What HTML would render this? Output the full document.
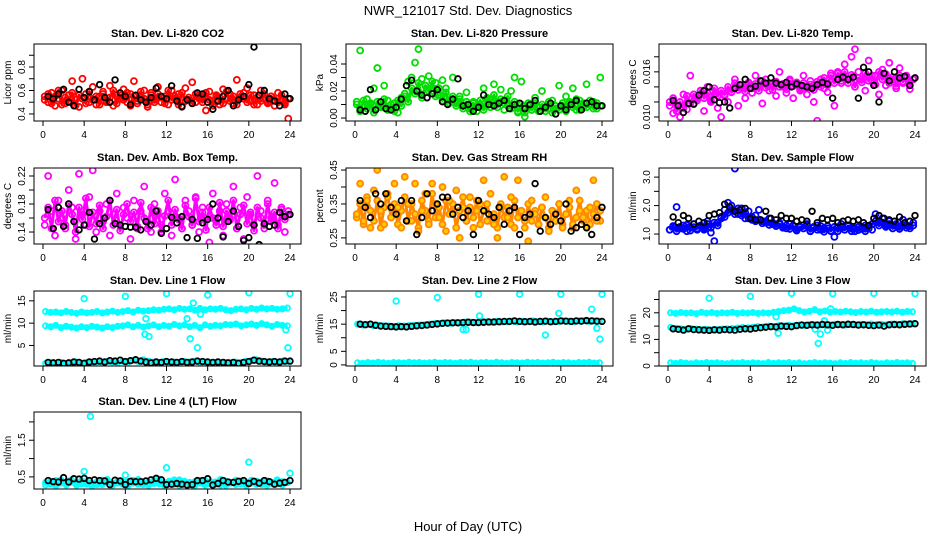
<!DOCTYPE html>
<html><head><meta charset="utf-8"><title>NWR_121017 Std. Dev. Diagnostics</title>
<style>html,body{margin:0;padding:0;background:#fff}svg{display:block;font-family:"Liberation Sans",sans-serif}</style>
</head><body>
<svg id="chart" width="936" height="540" viewBox="0 0 936 540" xmlns="http://www.w3.org/2000/svg">
<rect width="936" height="540" fill="#fff"/>
<text x="468" y="15" text-anchor="middle" font-size="13">NWR_121017  Std. Dev. Diagnostics</text>
<text x="468" y="531" text-anchor="middle" font-size="13">Hour of Day (UTC)</text>
</svg>
<script>
const co2Col=[0.55,0.50,0.58,0.47,0.53,0.60,0.49,0.56,0.68,0.52,0.46,0.70,0.57,0.50,0.63,0.48,0.55,0.59,0.51,0.64,0.47,0.56,0.53,0.61,0.50,0.57,0.68,0.49,0.54,0.60,0.46,0.58,0.52,0.63,0.50,0.55,0.48,0.60,0.53,0.57,0.47,0.62,0.52,0.67,0.50,0.56,0.54,0.43,0.59,0.51,0.55,0.48,0.61,0.53,0.57,0.49,0.69,0.54,0.58,0.62,0.51,0.56,0.48,0.60,0.53,0.50,0.55,0.47,0.58,0.52,0.49,0.36];
const co2Core=[0.52,0.57,0.49,0.55,0.60,0.48,0.54,0.51,0.58,0.47,0.56,0.53,0.49,0.59,0.52,0.55,0.48,0.57,0.50,0.54,0.60,0.49,0.56,0.52,0.58,0.47,0.55,0.51,0.59,0.53,0.48,0.56,0.50,0.57,0.54,0.49,0.60,0.52,0.55,0.48,0.58,0.51,0.54,0.49,0.57,0.53,0.50,0.58,0.52,0.47,0.56,0.54,0.49,0.59,0.51,0.55,0.48,0.57,0.53,0.50,0.56,0.48,0.54,0.51,0.57,0.49,0.55,0.52,0.50,0.56,0.48,0.53];
const co2Blk=[0.55,0.53,0.57,0.61,0.50,0.47,0.61,0.54,0.59,0.52,0.65,0.54,0.50,0.69,0.58,0.55,0.48,0.56,0.52,0.50,0.54,0.62,0.55,0.53,0.64,0.51,0.46,0.52,0.49,0.58,0.57,0.50,0.44,0.51,0.55,0.60,0.47,0.52,0.55,0.65,0.97,0.56,0.60,0.53,0.51,0.47,0.57,0.53];
const presCol=[0.012,0.050,0.008,0.014,0.010,0.022,0.037,0.009,0.024,0.013,0.006,0.011,0.004,0.015,0.018,0.027,0.030,0.041,0.051,0.029,0.024,0.031,0.020,0.026,0.017,0.028,0.022,0.013,0.030,0.011,0.016,0.009,0.019,0.007,0.012,0.005,0.010,0.022,0.014,0.008,0.025,0.012,0.021,0.006,0.009,0.020,0.030,0.004,0.027,0.001,0.011,0.006,0.015,0.008,0.020,0.005,0.010,0.013,0.007,0.024,0.009,0.016,0.011,0.022,0.006,0.013,0.008,0.025,0.010,0.012,0.007,0.030];
const presCore=[0.010,0.005,0.013,0.007,0.011,0.004,0.012,0.008,0.014,0.006,0.010,0.005,0.013,0.009,0.016,0.012,0.022,0.018,0.026,0.015,0.024,0.020,0.027,0.016,0.022,0.013,0.019,0.011,0.016,0.009,0.014,0.007,0.012,0.005,0.011,0.008,0.013,0.006,0.015,0.010,0.017,0.008,0.014,0.011,0.016,0.007,0.012,0.005,0.010,0.004,0.009,0.006,0.011,0.005,0.010,0.007,0.012,0.004,0.009,0.006,0.011,0.005,0.012,0.008,0.014,0.006,0.011,0.008,0.013,0.007,0.011,0.009];
const presBlk=[0.006,0.005,0.021,0.006,0.012,0.007,0.006,0.008,0.014,0.024,0.028,0.020,0.017,0.015,0.018,0.021,0.012,0.010,0.014,0.029,0.009,0.010,0.005,0.008,0.017,0.010,0.009,0.011,0.013,0.007,0.010,0.011,0.007,0.010,0.013,0.005,0.008,0.011,0.003,0.009,0.006,0.010,0.013,0.006,0.011,0.012,0.009,0.009];
const tempCol=[0.0120,0.0105,0.0115,0.0100,0.0130,0.0110,0.0155,0.0118,0.0125,0.0135,0.0108,0.0140,0.0122,0.0130,0.0112,0.0100,0.0128,0.0120,0.0133,0.0150,0.0115,0.0138,0.0125,0.0145,0.0132,0.0155,0.0140,0.0118,0.0150,0.0135,0.0145,0.0128,0.0160,0.0140,0.0132,0.0150,0.0125,0.0143,0.0137,0.0155,0.0130,0.0148,0.0120,0.0095,0.0150,0.0138,0.0133,0.0158,0.0115,0.0160,0.0145,0.0170,0.0150,0.0180,0.0190,0.0160,0.0150,0.0135,0.0175,0.0148,0.0155,0.0130,0.0163,0.0142,0.0172,0.0150,0.0138,0.0165,0.0145,0.0155,0.0137,0.0150];
const tempCore=[0.0115,0.0125,0.0108,0.0120,0.0112,0.0128,0.0118,0.0130,0.0122,0.0135,0.0125,0.0132,0.0120,0.0138,0.0128,0.0135,0.0130,0.0140,0.0133,0.0145,0.0136,0.0142,0.0134,0.0146,0.0138,0.0144,0.0135,0.0148,0.0139,0.0145,0.0136,0.0147,0.0140,0.0144,0.0137,0.0148,0.0141,0.0146,0.0135,0.0145,0.0138,0.0143,0.0136,0.0147,0.0140,0.0152,0.0142,0.0155,0.0145,0.0158,0.0148,0.0160,0.0145,0.0156,0.0140,0.0152,0.0146,0.0158,0.0148,0.0155,0.0143,0.0160,0.0150,0.0157,0.0145,0.0153,0.0141,0.0155,0.0147,0.0152,0.0142,0.0150];
const tempBlk=[0.0122,0.0115,0.0106,0.0118,0.0117,0.0129,0.0135,0.0140,0.0123,0.0119,0.0120,0.0112,0.0138,0.0143,0.0150,0.0138,0.0141,0.0148,0.0145,0.0152,0.0145,0.0143,0.0146,0.0140,0.0144,0.0142,0.0140,0.0138,0.0143,0.0146,0.0144,0.0125,0.0150,0.0153,0.0150,0.0153,0.0125,0.0166,0.0160,0.0142,0.0120,0.0158,0.0148,0.0160,0.0152,0.0154,0.0142,0.0152];
const ambCol=[0.150,0.220,0.170,0.135,0.185,0.160,0.145,0.200,0.175,0.130,0.223,0.165,0.150,0.190,0.228,0.140,0.170,0.155,0.180,0.135,0.165,0.195,0.150,0.175,0.160,0.130,0.185,0.145,0.170,0.205,0.155,0.140,0.180,0.165,0.150,0.195,0.170,0.135,0.215,0.160,0.145,0.185,0.170,0.150,0.190,0.140,0.175,0.160,0.125,0.195,0.155,0.170,0.135,0.180,0.160,0.205,0.145,0.175,0.130,0.190,0.165,0.150,0.220,0.170,0.145,0.185,0.160,0.210,0.150,0.175,0.140,0.170];
const ambCore=[0.160,0.175,0.145,0.185,0.155,0.170,0.150,0.180,0.165,0.140,0.175,0.158,0.188,0.148,0.168,0.152,0.178,0.145,0.162,0.185,0.150,0.172,0.142,0.165,0.180,0.155,0.168,0.148,0.182,0.160,0.145,0.175,0.152,0.170,0.140,0.163,0.185,0.150,0.172,0.158,0.145,0.178,0.162,0.150,0.188,0.155,0.168,0.143,0.175,0.160,0.150,0.182,0.148,0.170,0.157,0.185,0.145,0.165,0.178,0.152,0.168,0.142,0.175,0.160,0.150,0.180,0.155,0.168,0.145,0.172,0.158,0.165];
const ambBlk=[0.172,0.145,0.175,0.148,0.180,0.155,0.143,0.150,0.168,0.130,0.152,0.160,0.185,0.152,0.150,0.148,0.147,0.147,0.143,0.155,0.150,0.170,0.138,0.145,0.161,0.153,0.162,0.132,0.158,0.131,0.153,0.158,0.180,0.160,0.133,0.155,0.170,0.148,0.128,0.132,0.150,0.122,0.152,0.148,0.150,0.168,0.162,0.165];
const rhCol=[0.32,0.41,0.30,0.36,0.28,0.39,0.45,0.33,0.29,0.37,0.31,0.41,0.34,0.28,0.43,0.35,0.30,0.41,0.27,0.33,0.38,0.29,0.41,0.35,0.31,0.40,0.27,0.36,0.32,0.39,0.25,0.34,0.30,0.37,0.28,0.33,0.35,0.42,0.30,0.38,0.29,0.25,0.34,0.43,0.31,0.37,0.28,0.42,0.33,0.30,0.24,0.36,0.32,0.29,0.34,0.37,0.27,0.33,0.30,0.35,0.28,0.32,0.36,0.29,0.39,0.33,0.31,0.28,0.34,0.42,0.30,0.33];
const rhCore=[0.31,0.35,0.29,0.37,0.33,0.30,0.36,0.28,0.34,0.38,0.31,0.35,0.29,0.33,0.37,0.30,0.35,0.32,0.28,0.36,0.33,0.30,0.38,0.31,0.34,0.29,0.36,0.32,0.35,0.28,0.33,0.37,0.30,0.34,0.31,0.36,0.29,0.33,0.35,0.30,0.32,0.28,0.35,0.31,0.34,0.29,0.36,0.31,0.33,0.28,0.35,0.30,0.33,0.29,0.34,0.31,0.28,0.33,0.30,0.35,0.29,0.32,0.34,0.28,0.31,0.36,0.30,0.33,0.29,0.32,0.35,0.30];
const rhBlk=[0.36,0.34,0.31,0.38,0.35,0.38,0.34,0.32,0.36,0.30,0.36,0.26,0.31,0.38,0.33,0.35,0.37,0.37,0.32,0.34,0.31,0.33,0.26,0.36,0.33,0.32,0.31,0.34,0.29,0.33,0.34,0.26,0.31,0.32,0.41,0.27,0.31,0.29,0.32,0.30,0.35,0.27,0.28,0.29,0.28,0.26,0.31,0.34];
const flowCol=[1.15,1.25,1.95,1.20,1.30,1.10,1.25,1.35,1.15,1.28,1.20,1.45,1.05,0.75,1.40,1.60,1.85,2.10,2.00,3.30,1.70,1.90,1.55,1.80,1.50,1.65,1.85,1.45,1.40,1.55,1.35,1.30,1.40,1.25,1.20,1.35,1.30,1.15,1.25,1.20,1.35,1.10,1.25,1.30,1.15,1.20,1.28,1.10,0.90,1.25,1.35,1.15,1.30,1.20,1.10,1.25,1.18,1.30,1.20,1.15,1.70,1.40,1.55,1.30,1.45,1.20,1.35,1.25,1.50,1.30,1.20,1.40];
const flowCore=[1.15,1.28,1.10,1.25,1.18,1.32,1.12,1.24,1.20,1.30,1.15,1.35,1.22,1.40,1.30,1.55,1.60,1.75,1.85,1.70,1.90,1.65,1.75,1.55,1.60,1.45,1.50,1.38,1.45,1.32,1.40,1.28,1.35,1.22,1.30,1.18,1.28,1.12,1.25,1.20,1.30,1.10,1.22,1.15,1.28,1.08,1.20,1.12,1.25,1.10,1.22,1.15,1.28,1.10,1.20,1.14,1.25,1.10,1.20,1.35,1.45,1.30,1.40,1.25,1.35,1.20,1.30,1.18,1.32,1.22,1.28,1.30];
const flowBlk=[1.60,1.40,1.65,1.55,1.35,1.45,1.40,1.65,1.70,1.75,2.05,1.95,1.80,1.85,1.90,1.55,1.50,1.50,1.80,1.55,1.50,1.65,1.55,1.55,1.45,1.50,1.45,1.80,1.40,1.55,1.50,1.55,1.40,1.45,1.50,1.45,1.50,1.40,1.30,1.55,1.65,1.55,1.50,1.45,1.60,1.40,1.45,1.65];
const l1BandA=[12.6,12.4,12.5,12.3,12.6,12.4,12.2,12.5,12.3,12.4,12.6,12.3,12.5,12.7,12.4,12.6,12.8,12.5,12.9,12.7,12.8,13.0,12.9,13.1,13.2,13.0,13.3,13.1,13.2,12.9,13.3,13.0,13.2,13.1,13.3,13.0,12.8,13.1,13.2,13.0,13.3,13.1,13.4,13.2,13.3,13.1,13.2,13.4];
const l1BandB=[9.4,9.2,9.5,9.0,9.3,9.1,8.9,9.2,9.0,9.3,9.1,8.9,9.2,9.0,9.3,9.4,9.6,9.2,9.5,9.1,9.4,9.6,9.2,9.5,9.3,9.7,9.4,9.6,9.2,9.5,9.0,9.6,9.3,9.5,9.4,9.7,9.6,9.8,9.4,9.6,9.8,9.5,9.9,9.6,9.3,9.7,9.5,9.4];
const l1BandC=[1.0,1.1,0.9,1.2,1.0,1.1,1.3,1.0,1.2,1.1,1.3,1.2,1.4,1.3,1.1,1.5,1.3,1.6,1.4,1.8,1.5,1.3,1.2,1.4,1.1,1.3,1.2,1.4,1.3,1.5,1.2,1.3,1.1,1.2,1.0,1.2,1.1,1.3,1.2,1.5,1.6,1.8,1.5,1.3,1.4,1.2,1.5,1.4];
const l1Blk=[1.2,1.1,1.2,1.0,1.1,1.3,1.2,1.0,1.3,1.4,1.5,1.3,1.6,1.5,1.7,1.4,1.6,1.8,1.5,1.3,1.1,1.3,1.2,1.4,1.3,1.2,1.4,1.2,1.3,1.5,1.4,1.3,1.2,1.3,1.2,1.1,1.2,1.0,1.2,1.4,1.7,1.5,1.4,1.3,1.4,1.3,1.5,1.5];
const l1OutT=[4,8,12,16,20,24,9.9,10,10.3,14,14.3,14.6,15,15.3,23.6,23.8];
const l1OutV=[15.5,16,16.6,16.3,16.8,16.6,7.5,11,7,11,6.5,14.5,4.5,12,8.5,4.5];
const l2BandA=[15.0,14.7,14.8,14.5,14.6,14.4,14.3,14.2,14.4,14.3,14.5,14.6,14.7,14.8,15.0,15.2,15.3,15.5,15.4,15.6,15.5,15.8,15.7,15.6,15.8,15.9,15.7,16.0,15.8,15.9,16.1,15.8,16.0,15.9,16.2,16.0,15.8,16.1,15.9,16.0,16.2,16.1,15.9,16.2,16.3,16.0,16.2,16.1];
const l2BandB=[0.8,0.6,0.9,0.7,1.0,0.8,0.6,0.9,0.8,0.7,1.0,0.8,0.9,0.7,0.8,1.0,0.7,0.9,0.8,0.6,0.9,0.8,1.0,0.7,0.8,0.9,0.7,1.0,0.8,0.6,0.9,0.8,0.7,1.0,0.8,0.9,0.7,0.8,1.0,0.7,0.9,0.8,0.6,0.9,0.8,1.0,0.7,0.8];
const l2Blk=[15.0,14.8,15.0,14.6,14.3,14.2,14.1,14.0,14.1,14.0,14.2,14.4,14.5,14.7,14.9,15.1,15.3,15.4,15.5,15.5,15.6,15.7,15.6,15.6,15.7,15.8,15.8,15.9,16.0,16.0,16.2,16.0,15.9,16.0,15.8,16.0,16.1,15.9,16.0,16.2,16.1,16.0,16.2,16.1,16.3,16.2,16.1,16.0];
const l2OutT=[4,8,12,16,20,24,12.1,10.5,10.8,18.5,19.8,23,23.5,23.8];
const l2OutV=[23.5,24.8,26,26,26,26,18,13,13,11,19,20.5,13.5,9.5];
const l3BandA=[20.0,19.8,20.1,19.9,20.0,19.7,20.2,19.9,20.1,19.8,20.0,19.9,20.2,19.8,20.0,19.9,20.1,19.8,20.0,19.9,20.2,20.5,20.8,21.0,21.5,20.8,20.3,20.6,21.2,20.4,20.7,20.2,20.5,20.3,20.6,20.4,20.1,20.5,20.3,20.6,20.2,20.4,20.5,20.3,20.6,20.2,20.5,20.4];
const l3BandB=[14.5,14.2,14.0,13.8,14.1,13.9,13.7,13.8,13.6,13.7,13.9,14.0,14.1,14.3,14.5,14.4,14.6,14.8,14.7,15.0,14.9,15.2,15.1,15.3,15.2,15.4,15.3,15.6,15.5,15.4,15.6,15.5,15.7,15.6,15.4,15.6,15.5,15.7,15.6,15.8,15.6,15.7,15.5,15.8,15.7,15.9,15.8,15.9];
const l3BandC=[1.2,1.0,1.3,1.1,0.9,1.2,1.0,1.3,1.1,1.2,1.0,0.9,1.2,1.1,1.3,1.0,1.2,1.1,0.9,1.3,1.0,1.2,1.1,1.3,1.0,1.2,0.9,1.1,1.3,1.0,1.2,1.1,0.9,1.2,1.0,1.3,1.1,1.2,1.0,1.3,1.1,0.9,1.2,1.0,1.3,1.1,1.2,1.0];
const l3Blk=[14.0,13.8,13.5,14.0,13.7,13.6,13.5,13.4,13.6,13.5,13.7,13.6,13.5,13.8,14.0,13.9,14.2,14.4,14.6,14.8,14.7,15.0,14.9,14.8,15.2,15.4,15.3,15.5,15.4,15.6,15.5,15.3,15.6,15.5,15.7,15.6,15.4,15.5,15.3,15.2,15.4,15.0,15.5,15.6,15.5,15.7,15.8,15.9];
const l3OutT=[4,8,12,16,20,24,10.5,10.7,14.3,14.6,14.8,15.2,15.5,15.8];
const l3OutV=[25.5,26.2,27.3,27.2,27.3,27.2,18.5,12.3,13.8,8.5,12,17,13.5,21.5];
const l4BandA=[0.35,0.30,0.40,0.33,0.28,0.42,0.36,0.31,0.38,0.34,0.29,0.41,0.35,0.32,0.39,0.30,0.37,0.33,0.43,0.29,0.36,0.40,0.31,0.35,0.38,0.30,0.42,0.34,0.29,0.37,0.33,0.40,0.31,0.36,0.28,0.39,0.34,0.41,0.30,0.36,0.33,0.38,0.29,0.40,0.35,0.31,0.37,0.34];
const l4BandB=[0.28,0.38,0.26,0.42,0.31,0.35,0.27,0.40,0.30,0.25,0.37,0.29,0.43,0.27,0.33,0.39,0.26,0.41,0.30,0.36,0.27,0.32,0.44,0.28,0.31,0.42,0.27,0.38,0.35,0.26,0.40,0.28,0.37,0.30,0.43,0.27,0.33,0.29,0.39,0.26,0.41,0.30,0.36,0.27,0.32,0.42,0.28,0.35];
const l4Blk=[0.40,0.37,0.36,0.48,0.36,0.45,0.44,0.46,0.40,0.42,0.40,0.39,0.29,0.41,0.39,0.29,0.38,0.37,0.37,0.39,0.42,0.46,0.42,0.29,0.30,0.32,0.30,0.28,0.29,0.40,0.40,0.45,0.28,0.32,0.40,0.36,0.35,0.38,0.40,0.32,0.38,0.33,0.40,0.37,0.30,0.33,0.35,0.40];
const l4OutT=[4,4.6,8,12,20,24];
const l4OutV=[0.65,2.15,0.55,0.75,0.9,0.6];
const xTicks=[0,4,8,12,16,20,24];

const NS='http://www.w3.org/2000/svg';
const svg=document.getElementById('chart');
function mk(tag,attrs,parent){const e=document.createElementNS(NS,tag);for(const k in attrs)e.setAttribute(k,attrs[k]);(parent||svg).appendChild(e);return e;}
const colX=[0,312,625], rowTop=[44,168,291,412], rowBot=[121,244,366,489];

function panel(p){
  const g=mk('g',{});
  
  
  const x0=43+colX[p.c], xr=247, left=x0-9, right=x0+xr+11, top=rowTop[p.r], bot=rowBot[p.r];
  const X=t=>x0+t/24*xr;
  const Y=v=>bot-(v-p.y0)/(p.y1-p.y0)*(bot-top);
  const clip='clip-'+p.name;
  const cp=mk('clipPath',{id:clip},g); mk('rect',{x:left,y:top,width:right-left,height:bot-top},cp);
  const pts=mk('g',{'clip-path':'url(#'+clip+')'},g);
  function scatter(arr,color,r,sw,fill,name,line){
    const s=mk('g',{},pts);
    
    
    const tt=i=>(i+0.5)*24/arr.length;
    if(line){mk('polyline',{points:arr.map((v,i)=>X(tt(i))+','+Y(v)).join(' '),fill:'none',stroke:color,'stroke-width':line,'stroke-linejoin':'round'},s);}
    arr.forEach((v,i)=>{const c=mk('circle',{cx:X(tt(i)),cy:Y(v),r:r,fill:fill||'none',stroke:color,'stroke-width':sw},s);
      
      });
  }
  function blk(arr,name){
    const s=mk('g',{},pts);
    
    
    arr.forEach((v,i)=>{const c=mk('circle',{cx:X(0.5*(i+1)),cy:Y(v),r:2.8,fill:'none',stroke:'#000','stroke-width':1.8},s);
      
      });
  }
  function out(ts,vs,color,name){
    const s=mk('g',{},pts);
    
    
    ts.forEach((t,i)=>{const c=mk('circle',{cx:X(t),cy:Y(vs[i]),r:2.8,fill:'none',stroke:color,'stroke-width':1.8},s);
      
      });
  }
  if(p.core) scatter(p.core,p.color,3,1.8,p.fill,'core-series',3);
  (p.col||[]).forEach((a,k)=>scatter(a,p.color,p.band?2.6:3,1.8,p.fill,'series-'+k,p.band?4:0));
  if(p.outT) out(p.outT,p.outV,p.color,'outliers');
  blk(p.blk,'hourly-series');
  const fr=mk('rect',{x:left,y:top,width:right-left,height:bot-top,fill:'none',stroke:'#000','stroke-width':1},g);
  
  
  const tl=mk('text',{x:(left+right)/2,y:top-7,'text-anchor':'middle','font-size':11,'font-weight':'bold'},g); tl.textContent=p.title;
  
  
  xTicks.forEach(t=>{mk('line',{x1:X(t),x2:X(t),y1:bot,y2:bot+5,stroke:'#000'},g);
    const e=mk('text',{x:X(t),y:bot+17,'text-anchor':'middle','font-size':10},g); e.textContent=t;
    
    });
  p.yt.forEach(v=>{mk('line',{x1:left,x2:left-5,y1:Y(v),y2:Y(v),stroke:'#000'},g);});
  p.yl.forEach(v=>{const e=mk('text',{x:0,y:0,'text-anchor':'middle','font-size':10,transform:'translate('+(left-9)+','+Y(+v)+') rotate(-90)'},g); e.textContent=v;
    
    });
  const yt=mk('text',{x:0,y:0,'text-anchor':'middle','font-size':10,transform:'translate('+(left-23)+','+((top+bot)/2)+') rotate(-90)'},g); yt.textContent=p.ylab;
  
  
}
panel({name:'co2',r:0,c:0,title:'Stan. Dev. Li-820 CO2',ylab:'Licor ppm',y0:0.34,y1:0.996,yt:[0.4,0.5,0.6,0.7,0.8,0.9],yl:['0.4','0.6','0.8'],color:'#f00',core:co2Core,col:[co2Col],blk:co2Blk});
panel({name:'pressure',r:0,c:1,title:'Stan. Dev. Li-820 Pressure',ylab:'kPa',y0:-0.0022,y1:0.0548,yt:[0,0.01,0.02,0.03,0.04],yl:['0.00','0.02','0.04'],color:'#0d0',core:presCore,col:[presCol],blk:presBlk});
panel({name:'li820-temp',r:0,c:2,title:'Stan. Dev. Li-820 Temp.',ylab:'degrees C',y0:0.00947,y1:0.0197,yt:[0.010,0.012,0.014,0.016,0.018],yl:['0.010','0.016'],color:'#f0f',core:tempCore,col:[tempCol],blk:tempBlk});
panel({name:'amb-box-temp',r:1,c:0,title:'Stan. Dev. Amb. Box Temp.',ylab:'degrees C',y0:0.1229,y1:0.2314,yt:[0.14,0.16,0.18,0.20,0.22],yl:['0.14','0.18','0.22'],color:'#f0f',core:ambCore,col:[ambCol],blk:ambBlk});
panel({name:'gas-rh',r:1,c:1,title:'Stan. Dev. Gas Stream RH',ylab:'percent',y0:0.232,y1:0.456,yt:[0.25,0.30,0.35,0.40,0.45],yl:['0.25','0.35','0.45'],color:'#f80',fill:'#fc0',core:rhCore,col:[rhCol],blk:rhBlk});
panel({name:'sample-flow',r:1,c:2,title:'Stan. Dev. Sample Flow',ylab:'ml/min',y0:0.65,y1:3.32,yt:[1,1.5,2,2.5,3],yl:['1.0','2.0','3.0'],color:'#00f',core:flowCore,col:[flowCol],blk:flowBlk});
panel({name:'line1-flow',r:2,c:0,title:'Stan. Dev. Line 1 Flow',ylab:'ml/min',y0:0.4,y1:17.2,yt:[5,10,15],yl:['5','10','15'],color:'#0ff',band:true,col:[l1BandA,l1BandB,l1BandC],outT:l1OutT,outV:l1OutV,blk:l1Blk});
panel({name:'line2-flow',r:2,c:1,title:'Stan. Dev. Line 2 Flow',ylab:'ml/min',y0:-0.4,y1:27.2,yt:[0,5,10,15,20,25],yl:['0','5','15','25'],color:'#0ff',band:true,col:[l2BandA,l2BandB],outT:l2OutT,outV:l2OutV,blk:l2Blk});
panel({name:'line3-flow',r:2,c:2,title:'Stan. Dev. Line 3 Flow',ylab:'ml/min',y0:0,y1:28.2,yt:[0,5,10,15,20,25],yl:['0','10','20'],color:'#0ff',band:true,col:[l3BandA,l3BandB,l3BandC],outT:l3OutT,outV:l3OutV,blk:l3Blk});
panel({name:'line4-flow',r:3,c:0,title:'Stan. Dev. Line 4 (LT) Flow',ylab:'ml/min',y0:0.17,y1:2.27,yt:[0.5,1,1.5,2],yl:['0.5','1.5'],color:'#0ff',band:true,col:[l4BandA,l4BandB],outT:l4OutT,outV:l4OutV,blk:l4Blk});
</script>
</body></html>
